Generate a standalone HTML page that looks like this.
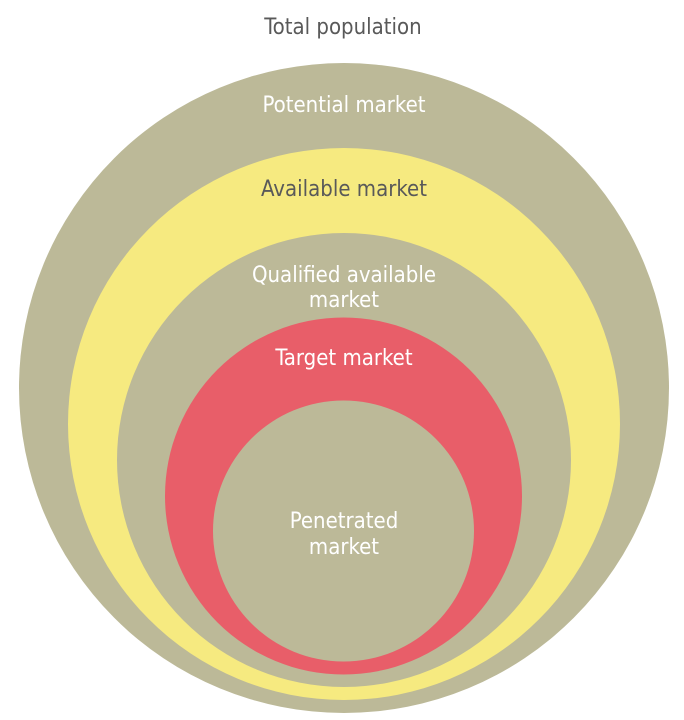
<!DOCTYPE html>
<html><head><meta charset="utf-8"><style>
html,body{margin:0;padding:0;background:#fff}
svg{display:block}
text{font-family:"DejaVu Sans Condensed","Liberation Sans",sans-serif;font-size:22px;text-anchor:middle}
</style></head><body>
<svg width="684" height="720" viewBox="0 0 684 720">
<circle cx="344" cy="388" r="325" fill="#bcb998"/>
<circle cx="344" cy="424" r="276" fill="#f6ea80"/>
<circle cx="344" cy="460" r="227" fill="#bcb998"/>
<circle cx="343.5" cy="496" r="178.5" fill="#e85e69"/>
<circle cx="343.5" cy="531" r="130.5" fill="#bcb998"/>
<text x="343" y="34" fill="#595959">Total population</text>
<text x="344" y="112" fill="#fff">Potential market</text>
<text x="344" y="196" fill="#595959">Available market</text>
<text x="344" y="282" fill="#fff">Qualified available</text>
<text x="344" y="307" fill="#fff">market</text>
<text x="344" y="365" fill="#fff">Target market</text>
<text x="344" y="528" fill="#fff">Penetrated</text>
<text x="344" y="554" fill="#fff">market</text>
</svg>
</body></html>
